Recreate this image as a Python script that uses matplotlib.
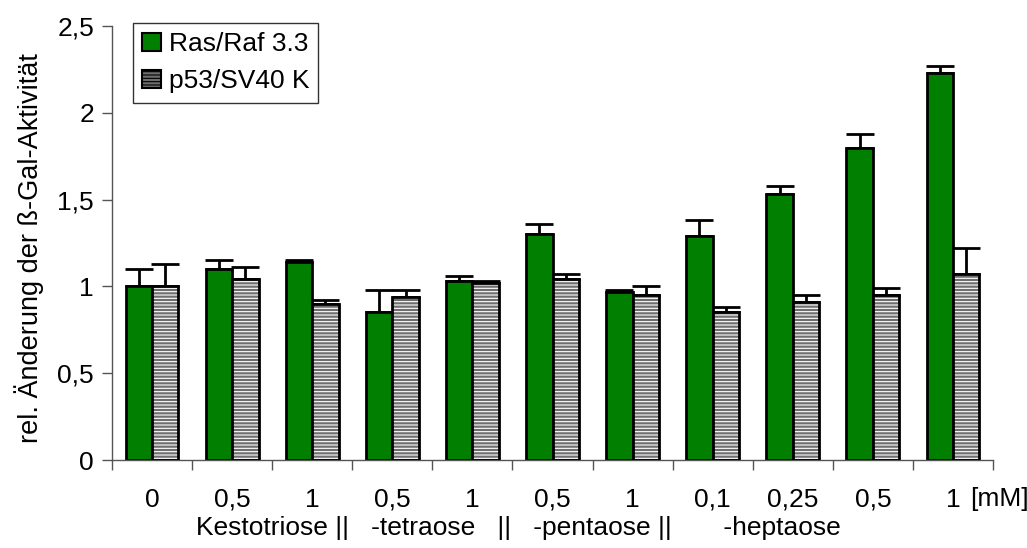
import matplotlib
matplotlib.use("Agg")
import matplotlib.pyplot as plt
import numpy as np
from matplotlib.patches import Patch

plt.rcParams['font.family'] = ['Liberation Sans', 'DejaVu Sans']
plt.rcParams['hatch.linewidth'] = 0.8

categories = ['0', '0,5', '1', '0,5', '1', '0,5', '1', '0,1', '0,25', '0,5', '1']
ras_raf = [1.00, 1.10, 1.14, 0.85, 1.03, 1.30, 0.97, 1.29, 1.53, 1.80, 2.23]
ras_raf_err = [0.10, 0.05, 0.01, 0.13, 0.03, 0.06, 0.01, 0.09, 0.05, 0.08, 0.04]
p53 = [1.00, 1.04, 0.90, 0.94, 1.02, 1.04, 0.95, 0.85, 0.91, 0.95, 1.07]
p53_err = [0.13, 0.07, 0.02, 0.04, 0.01, 0.03, 0.05, 0.03, 0.04, 0.04, 0.15]
series_names = ['Ras/Raf 3.3', 'p53/SV40 K']
unit_label = '[mM]'
group_label = 'Kestotriose ||   -tetraose   ||   -pentaose ||       -heptaose'
y_label = 'rel. Änderung der ß-Gal-Aktivität'
y_ticks = [0, 0.5, 1, 1.5, 2, 2.5]
y_ticklabels = ['0', '0,5', '1', '1,5', '2', '2,5']

W, H = 1027, 548
fig = plt.figure(figsize=(W / 100, H / 100), dpi=100)
ax = fig.add_axes([112 / W, 1 - 460 / H, (993 - 112) / W, (460 - 26) / H])

x = np.arange(len(categories))
w = 0.33
green = '#007F00'
grey = '#6e6e6e'

ax.bar(x - w / 2, ras_raf, w, color=green, edgecolor='black', linewidth=2, zorder=2)
# grey hatched bars: fill + white stripes, then black outline
ax.bar(x + w / 2, p53, w, color=grey, edgecolor='white', linewidth=0,
       hatch='-----', zorder=2)
ax.bar(x + w / 2, p53, w, fill=False, edgecolor='black', linewidth=2, zorder=3)

zeros = [0] * len(categories)
ax.errorbar(x - w / 2, ras_raf, yerr=[zeros, ras_raf_err], fmt='none', ecolor='black',
            elinewidth=2, capsize=10, capthick=2, zorder=1)
ax.errorbar(x + w / 2, p53, yerr=[zeros, p53_err], fmt='none', ecolor='black',
            elinewidth=2, capsize=10, capthick=2, zorder=1)

ax.set_xlim(-0.5, len(categories) - 0.5)
ax.set_ylim(0, 2.5)
ax.set_yticks(y_ticks)
ax.set_yticklabels(y_ticklabels, fontsize=19)
ax.set_xticks(np.arange(len(categories) + 1) - 0.5)
ax.set_xticklabels([])
ax.set_xticks(x, minor=True)
ax.set_xticklabels(categories, minor=True, fontsize=19)
ax.tick_params(axis='x', which='minor', length=0, pad=20)
ax.tick_params(axis='x', which='major', length=7, width=1, color='#555555', direction='out')
ax.tick_params(axis='y', length=7, width=1, color='#555555', direction='out', pad=6)

for s in ['top', 'right']:
    ax.spines[s].set_visible(False)
for s in ['left', 'bottom']:
    ax.spines[s].set_color('#555555')
    ax.spines[s].set_linewidth(1)

fig.text(970 / W, 1 - 499 / H, unit_label, fontsize=19, ha='left', va='center')
fig.text(196 / W, 1 - 528 / H, group_label, fontsize=19, ha='left', va='center')
fig.text(29 / W, 1 - 248 / H, y_label, rotation=90, fontsize=19.5, ha='center', va='center')

handles = [Patch(facecolor=green, edgecolor='black', linewidth=1.5),
           Patch(facecolor=grey, edgecolor='black', linewidth=1.5, hatch='-----')]
leg = fig.legend(handles, series_names, loc='upper left',
                 bbox_to_anchor=(133 / W, 1 - 23 / H), fontsize=19,
                 frameon=True, fancybox=False, borderpad=0.35, labelspacing=0.5,
                 handlelength=0.7, handleheight=0.7, handletextpad=0.3,
                 borderaxespad=0)
leg.get_frame().set_edgecolor('black')
leg.get_frame().set_linewidth(1)

fig.savefig('out.png', dpi=100)
